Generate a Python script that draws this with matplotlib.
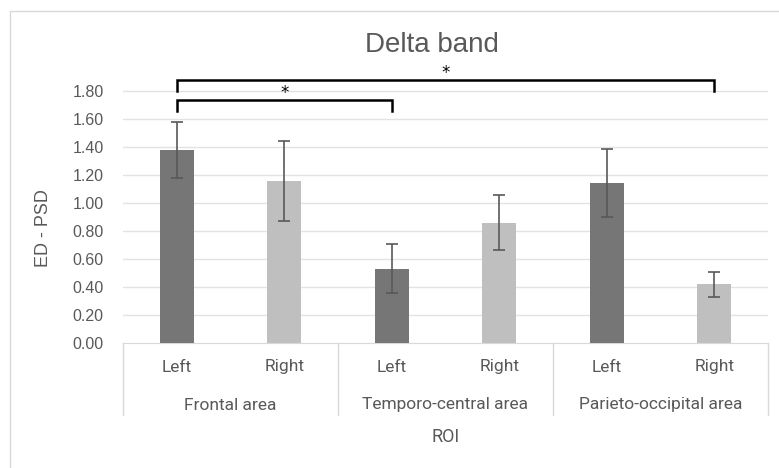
import matplotlib
matplotlib.use('Agg')
import matplotlib.pyplot as plt
from matplotlib.patches import Rectangle
import numpy as np

# ── data ──────────────────────────────────────────────────
groups = ["Frontal area", "Temporo-central area", "Parieto-occipital area"]
sides = ["Left", "Right", "Left", "Right", "Left", "Right"]
values = [1.38, 1.16, 0.53, 0.86, 1.14, 0.42]
errors = [0.20, 0.285, 0.175, 0.197, 0.243, 0.089]
bar_colors = ['#767676', '#bfbfbf'] * 3
yticks = [0.0, 0.2, 0.4, 0.6, 0.8, 1.0, 1.2, 1.4, 1.6, 1.8]
# significance brackets: (bar a, bar b, top, leg bottom, star y)
brackets = [(0, 5, 1.88, 1.80, 1.93), (0, 2, 1.735, 1.655, 1.785)]

W, H = 779, 468
fig = plt.figure(figsize=(W / 100, H / 100), dpi=100)
ax = fig.add_axes([123 / W, 1 - 343 / H, 645 / W, 280 / H])

# chart area border (Excel style)
fig.patches.append(Rectangle((10 / W, -0.1), 1.2, (H - 11) / H + 0.1,
                             transform=fig.transFigure, fill=False,
                             edgecolor='#d9d9d9', linewidth=1))

x = np.arange(len(values))
ax.bar(x, values, width=0.316, color=bar_colors, zorder=3)
ax.errorbar(x, values, yerr=errors, fmt='none', ecolor='#595959',
            elinewidth=1.2, capsize=4, capthick=1.2, zorder=4)

ax.set_xlim(-0.5, 5.5)
ax.set_ylim(0, 2.0)
ax.set_yticks(yticks)
ax.set_yticklabels([f"{v:.2f}" for v in yticks], fontsize=11.5,
                   color='#595959', family='Liberation Sans')
ax.tick_params(axis='y', length=0, pad=14)
ax.set_xticks([])
for v in yticks[1:]:
    ax.axhline(v, color='#e3e3e3', linewidth=1, zorder=1)
for s in ['top', 'right', 'left']:
    ax.spines[s].set_visible(False)
ax.spines['bottom'].set_color('#d9d9d9')

ax.set_ylabel("ED - PSD", fontsize=13, color='#595959', family='Liberation Sans')
ax.yaxis.set_label_coords(-0.11, 0.41)

# category table below the axis
trans = ax.get_xaxis_transform()
def ypx(p):
    return (343 - p) / 280.0
for xb in [-0.5, 1.5, 3.5, 5.5]:
    ax.plot([xb, xb], [0, ypx(415)], transform=trans, color='#d9d9d9',
            linewidth=1, clip_on=False)
for xi, lab in zip(x, sides):
    ax.text(xi, ypx(367), lab, transform=trans, ha='center', va='center',
            fontsize=12.5, color='#595959', family='Roboto')
for gi, g in enumerate(groups):
    ax.text(2 * gi + 0.5, ypx(405), g, transform=trans, ha='center',
            va='center', fontsize=12.5, color='#595959', family='Roboto')
ax.text(2.5, ypx(437), "ROI", transform=trans, ha='center', va='center',
        fontsize=13, color='#595959', family='Roboto')

# significance brackets
for a, b, top, leg, sy in brackets:
    ax.plot([a, a, b, b], [leg, top, top, leg], color='black', linewidth=1.8,
            clip_on=False, zorder=5, solid_joinstyle='miter')
    ax.text((a + b) / 2, sy, "*", ha='center', va='center', fontsize=12,
            color='black', clip_on=False)

fig.text(432 / W, 1 - 45 / H, "Delta band", ha='center', va='center',
         fontsize=20, color='#595959', family='Liberation Sans')

fig.savefig("out.png", dpi=100)
